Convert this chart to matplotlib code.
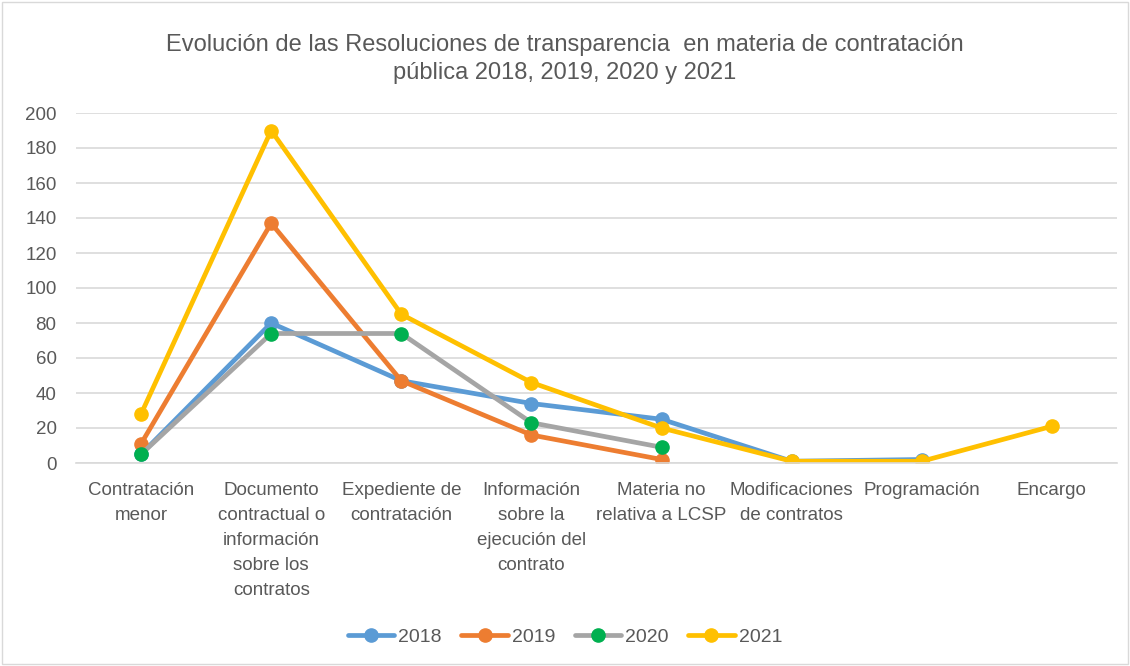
import matplotlib
matplotlib.use("Agg")
import matplotlib.pyplot as plt
import numpy as np

categories = ["Contratación\nmenor", "Documento\ncontractual o\ninformación\nsobre los\ncontratos",
              "Expediente de\ncontratación", "Información\nsobre la\nejecución del\ncontrato",
              "Materia no\nrelativa a LCSP", "Modificaciones\nde contratos", "Programación", "Encargo"]
s2018 = [5, 80, 47, 34, 25, 1, 2, None]
s2019 = [11, 137, 47, 16, 2, None, None, None]
s2020 = [5, 74, 74, 23, 9, None, None, None]
s2021 = [28, 190, 85, 46, 20, 1, 1, 21]
series_names = ["2018", "2019", "2020", "2021"]
line_colors = ["#5B9BD5", "#ED7D31", "#A5A5A5", "#FFC000"]
marker_colors = ["#5B9BD5", "#ED7D31", "#00B050", "#FFC000"]
yticks = [0, 20, 40, 60, 80, 100, 120, 140, 160, 180, 200]

plt.rcParams['font.family'] = ['Liberation Sans', 'DejaVu Sans']
fig = plt.figure(figsize=(11.3, 6.66), dpi=100)
ax = fig.add_axes([76/1130, 1-463/666, (1117-76)/1130, (463-113)/666])

x = np.arange(len(categories))
for name, vals, lc, mc in zip(series_names, [s2018, s2019, s2020, s2021], line_colors, marker_colors):
    y = np.array([np.nan if v is None else v for v in vals], dtype=float)
    ax.plot(x, y, color=lc, lw=3.4, marker='o', ms=9.5, markerfacecolor=mc,
            markeredgecolor=mc, label=name, solid_capstyle='round')

ax.set_xlim(-0.5, len(categories)-0.5)
ax.set_ylim(0, 200)
ax.set_yticks(yticks)
ax.set_xticks(x)
ax.set_xticklabels(categories, fontsize=13.5, color="#595959", linespacing=1.6)
ax.tick_params(axis='y', labelsize=13.5, colors="#595959", length=0, pad=14)
ax.tick_params(axis='x', length=0, pad=14)
ax.grid(axis='y', color="#D9D9D9", lw=1.2)
ax.set_axisbelow(True)
for s in ['top', 'right', 'left']:
    ax.spines[s].set_visible(False)
ax.spines['bottom'].set_color("#D9D9D9")
ax.spines['bottom'].set_linewidth(1.2)

fig.text(0.5, 1-59/666, "Evolución de las Resoluciones de transparencia  en materia de contratación\npública 2018, 2019, 2020 y 2021",
         ha='center', va='center', fontsize=17, color="#595959", linespacing=1.3)

leg = fig.legend(loc='center', bbox_to_anchor=(0.5, 1-637/666), ncol=4, frameon=False,
                 fontsize=14, handlelength=2.4, columnspacing=1.0, handletextpad=0.2)
for t in leg.get_texts():
    t.set_color("#595959")

fig.patches.append(matplotlib.patches.Rectangle((0.002, 0.003), 0.996, 0.994, transform=fig.transFigure,
                                                fill=False, edgecolor="#D9D9D9", lw=1))
fig.savefig("out.png", dpi=100, facecolor="white")
